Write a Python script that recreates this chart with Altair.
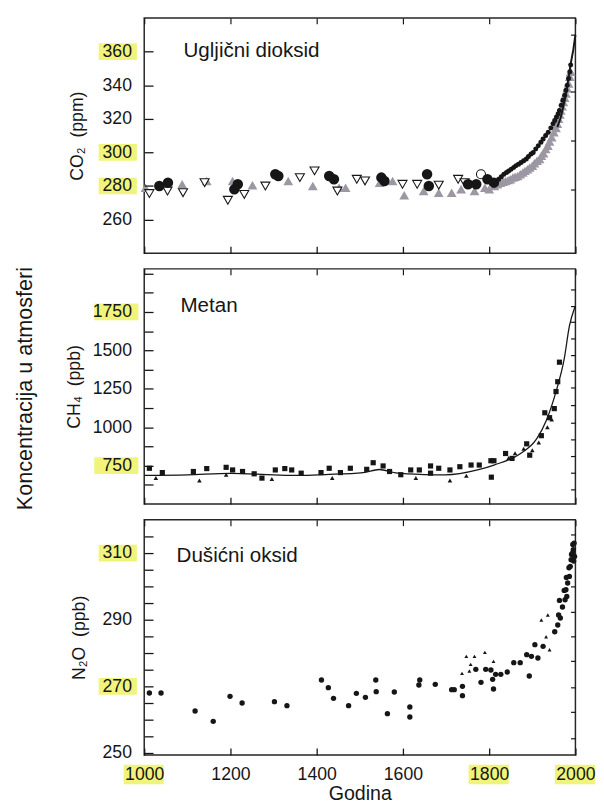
import altair as alt
import pandas as pd

FONT = "Liberation Sans"
INK = "#161616"
GRAY = "#9c97a3"
HILITE = "#f1f47a"

X_DOMAIN = [1000, 2000]
X_TICKS = [1000, 1200, 1400, 1600, 1800, 2000]
X_HILITE = [1000, 1800, 2000]

# ---------------- CO2 (ppm) ----------------
co2_circ_year = [1035, 1055, 1209, 1217, 1304, 1311, 1429, 1440, 1550, 1557, 1656, 1660, 1751, 1770, 1796, 1811]
co2_circ_val = [280, 282, 278, 281, 287, 286, 286, 284, 285, 283, 287, 280, 281, 281, 284, 282]
co2_open_year = [1012, 1054, 1090, 1140, 1194, 1232, 1281, 1361, 1395, 1448, 1493, 1512, 1599, 1633, 1683, 1728, 1743]
co2_open_val = [275.5, 277, 276, 282, 271.5, 275, 280, 285, 289, 277, 284, 283, 281, 281, 280.5, 284, 282]
co2_ring_year = [1781]
co2_ring_val = [287]
co2_gray_year = [1003, 1088, 1145, 1205, 1251, 1334, 1391, 1452, 1467, 1546, 1576, 1603, 1648, 1683, 1713,
                 1735, 1766, 1790, 1800, 1812, 1819, 1826, 1832, 1838, 1844, 1849, 1855, 1860, 1866, 1872,
                 1878, 1883, 1889, 1894, 1900, 1905, 1911, 1917, 1921, 1926, 1931, 1936, 1940, 1945, 1950,
                 1955, 1958, 1961, 1964, 1966, 1969, 1972, 1975, 1978, 1981, 1984, 1987, 1989]
co2_gray_val = [279, 281, 283, 283, 280.5, 283, 280, 279, 279, 282, 283, 274.5, 277, 276, 276,
                278, 277, 279, 278, 280, 281, 282, 282.5, 283, 283.5, 284, 285, 285.5, 286, 287,
                288, 289, 290, 291, 292, 293.5, 295, 296, 298, 299.5, 302, 304, 306.5, 309, 312,
                314.5, 317, 320, 322.5, 325, 327.5, 330, 332.5, 335, 338, 341, 345, 348]
co2_dot_year = [1822, 1828, 1834, 1840, 1845, 1851, 1857, 1862, 1868, 1874, 1880, 1886, 1891, 1897, 1902,
                1908, 1914, 1920, 1925, 1931, 1937, 1943, 1948, 1952, 1956, 1960, 1963, 1967, 1971, 1975,
                1978, 1981, 1984, 1987, 1989]
co2_dot_val = [284, 285.5, 287, 288, 289, 290, 291, 292, 293, 294, 295, 296, 297.5, 299, 300,
               302, 304, 306, 308, 310, 312, 314.5, 317, 319, 321, 323, 325, 328, 331, 334,
               337, 340, 344, 348, 352]
co2_line_year = [1958, 1965, 1970, 1975, 1980, 1985, 1990, 1995, 2000]
co2_line_val = [315, 320, 325, 331, 338, 346, 354, 361, 370]

# ---------------- CH4 (ppb) ----------------
ch4_sq_year = [1012, 1042, 1114, 1145, 1190, 1205, 1228, 1255, 1273, 1304, 1326, 1342, 1364, 1410, 1429,
               1455, 1478, 1516, 1531, 1554, 1569, 1595, 1618, 1638, 1664, 1664, 1683, 1709, 1732, 1758,
               1777, 1804, 1805, 1811, 1838, 1853, 1887, 1894, 1921, 1929, 1940, 1951, 1955, 1959, 1963]
ch4_sq_val = [733, 705, 712, 731, 739, 722, 712, 697, 669, 722, 731, 722, 701, 705, 733,
              705, 733, 726, 769, 748, 712, 691, 722, 722, 748, 701, 733, 722, 743, 754,
              754, 782, 675, 782, 829, 797, 892, 818, 945, 1094, 1062, 1121, 1232, 1296, 1423]
ch4_tri_year = [1027, 1128, 1190, 1296, 1436, 1630, 1709, 1747, 1845, 1860, 1880, 1900, 1915, 1935, 1945]
ch4_tri_val = [669, 654, 691, 663, 669, 669, 654, 684, 800, 830, 860, 850, 900, 1000, 1050]
ch4_line_year = [1000, 1100, 1200, 1300, 1357, 1420, 1508, 1545, 1583, 1650, 1698, 1773, 1811, 1872,
                 1910, 1932, 1955, 1974, 1986, 1999]
ch4_line_val = [686, 690, 700, 690, 686, 692, 705, 725, 703, 692, 690, 722, 754, 828,
                924, 1041, 1232, 1444, 1657, 1784]

# ---------------- N2O (ppb) ----------------
n2o_dot_year = [1012, 1039, 1118, 1160, 1199, 1227, 1302, 1331, 1411, 1427, 1439, 1474, 1492, 1513, 1537,
                1538, 1564, 1580, 1616, 1616, 1639, 1637, 1675, 1713, 1719, 1738, 1738, 1769, 1781, 1792,
                1804, 1808, 1810, 1815, 1827, 1842, 1857, 1872, 1887, 1893, 1898, 1906, 1913, 1925, 1952,
                1959, 1961, 1963, 1965, 1970, 1974, 1976, 1978, 1979, 1980, 1982, 1985, 1986, 1988, 1990,
                1991, 1993, 1994, 1995, 1996, 1997, 1998]
n2o_dot_val = [268.0, 268.0, 262.6, 259.5, 267.0, 265.0, 265.4, 264.2, 271.9, 269.6, 266.4, 264.2, 267.9, 266.7, 271.9,
               268.4, 261.8, 268.3, 263.8, 260.8, 271.9, 270.4, 270.6, 269.0, 269.0, 270.0, 267.2, 275.1, 271.2, 275.1,
               274.9, 272.1, 269.2, 273.6, 273.6, 274.3, 277.1, 277.1, 279.5, 273.1, 279.0, 282.5, 278.5, 282.0, 286.4,
               288.4, 291.4, 295.8, 290.5, 293.8, 298.8, 296.0, 299.0, 302.7, 297.0, 301.0, 305.6, 303.0, 306.0, 308.0,
               309.6, 310.0, 312.6, 311.0, 307.6, 313.0, 309.0]
n2o_tri_year = [1737, 1747, 1754, 1757, 1766, 1790, 1810, 1921, 1932, 1936, 1940]
n2o_tri_val = [273.9, 279.0, 274.6, 276.6, 279.0, 280.2, 277.5, 289.9, 284.9, 291.4, 281.0]

# ---------------- axes / labels ----------------
co2_left_ticks = [260, 280, 300, 320, 340, 360]
co2_labels = [260, 280, 300, 320, 340, 360]
co2_right_ticks = [278, 307, 336, 370]
co2_hilite = [360, 300, 280]

ch4_left_ticks = [625, 750, 875, 1000, 1125, 1250, 1375, 1500, 1625, 1750, 1875, 2000]
ch4_labels = [750, 1000, 1250, 1500, 1750]
ch4_right_ticks = [596, 705, 814, 923, 1032, 1141, 1256, 1365, 1468, 1577, 1686, 1788, 1897]
ch4_hilite = [1750, 750]

n2o_left_ticks = [250, 255, 260, 265, 270, 275, 280, 285, 290, 295, 300, 305, 310, 315]
n2o_labels = [250, 270, 290, 310]
n2o_right_ticks = [254.5, 262.2, 269.7, 277.5, 284.9, 292.4, 299.9, 307.6, 315.7]
n2o_hilite = [310, 270]

panel_names = ["Ugljični dioksid", "Metan", "Dušićni oksid"]
panel_name_year = [1091, 1084, 1075]
panel_name_val = [357, 1750, 307.3]
panel_titles = ["CO₂\u00a0 (ppm)", "CH₄\u00a0 (ppb)", "N₂O\u00a0 (ppb)"]

W, H = 440, 240


def df(years, vals):
    return pd.DataFrame({"year": years, "val": vals})


def panel(idx, y_domain, left_ticks, label_vals, right_ticks, hilite_vals, hl_path,
          series_layers, title_x, bottom=False):
    xs = alt.Scale(domain=X_DOMAIN, nice=False, zero=False)
    ys = alt.Scale(domain=y_domain, nice=False, zero=False)
    X = lambda: alt.X("year:Q", scale=xs, axis=None)
    Y = lambda: alt.Y("val:Q", scale=ys, axis=None)

    layers = []
    # yellow highlights behind selected y labels
    hl = alt.Chart(pd.DataFrame({"val": hilite_vals})).mark_point(
        shape=hl_path, filled=True, color=HILITE, size=400, opacity=1, strokeWidth=0
    ).encode(x=alt.value(-27), y=Y())
    layers.append(hl)
    if bottom:
        xhl = alt.Chart(pd.DataFrame({"year": X_HILITE})).mark_point(
            shape="M-2.1,-1H2V1H-2.1Z", filled=True, color=HILITE, size=400, opacity=1, strokeWidth=0
        ).encode(x=X(), y=alt.value(H + 20))
        layers.append(xhl)

    for data, mark in series_layers:
        if mark[0] == "line":
            layers.append(alt.Chart(data).mark_line(**mark[1]).encode(x=X(), y=Y()))
        else:
            layers.append(alt.Chart(data).mark_point(**mark[1]).encode(x=X(), y=Y()))

    ann = alt.Chart(pd.DataFrame({"year": [panel_name_year[idx]], "val": [panel_name_val[idx]],
                                  "label": [panel_names[idx]]})).mark_text(
        align="left", baseline="alphabetic", font=FONT, fontSize=21, color=INK
    ).encode(x=X(), y=Y(), text="label:N")
    layers.append(ann)

    label_expr = "indexof(" + str(label_vals) + ", datum.value) >= 0 ? datum.label : ''"
    left_axis = alt.Axis(
        orient="left", values=left_ticks, format="d", labelExpr=label_expr,
        offset=-9, tickSize=9, tickWidth=1.3, tickColor=INK, domain=False, grid=False,
        labelPadding=13, labelFont=FONT, labelFontSize=18, labelColor=INK,
        title=panel_titles[idx], titleFont=FONT, titleFontSize=18, titleFontWeight="normal",
        titleColor=INK, titleAngle=270, titleX=title_x, titleY=H / 2, titleAlign="center",
        titleBaseline="middle", zindex=1,
    )
    if bottom:
        bottom_axis = alt.Axis(
            orient="bottom", values=X_TICKS, format="d", offset=-7, tickSize=7, tickWidth=1.3,
            tickColor=INK, domain=False, grid=False, labelPadding=11, labelFont=FONT,
            labelFontSize=18, labelColor=INK, labelFlush=False, labelOverlap=False,
            title="Godina", titleFont=FONT, titleFontSize=20, titleFontWeight="normal",
            titleColor=INK, titlePadding=0, zindex=1,
        )
    else:
        bottom_axis = alt.Axis(
            orient="bottom", values=X_TICKS, offset=-7, tickSize=7, tickWidth=1.3,
            tickColor=INK, domain=False, grid=False, labels=False, title=None, zindex=1,
        )
    carrier = alt.Chart(pd.DataFrame({"year": [X_DOMAIN[0]], "val": [y_domain[0]]})).mark_point(
        opacity=0
    ).encode(x=alt.X("year:Q", scale=xs, axis=bottom_axis), y=alt.Y("val:Q", scale=ys, axis=left_axis))
    layers.append(carrier)

    top_axis = alt.Axis(orient="top", values=X_TICKS, offset=-6, tickSize=6, tickWidth=1.2,
                        tickColor=INK, domain=False, grid=False, labels=False, title=None, zindex=1)
    right_axis = alt.Axis(orient="right", values=right_ticks, offset=-5, tickSize=5, tickWidth=1.2,
                          tickColor=INK, domain=False, grid=False, labels=False, title=None, zindex=1)
    carrier2 = alt.Chart(pd.DataFrame({"year": [X_DOMAIN[0]], "val": [y_domain[0]]})).mark_point(
        opacity=0
    ).encode(x=alt.X("year:Q", scale=xs, axis=top_axis), y=alt.Y("val:Q", scale=ys, axis=right_axis))
    layers.append(carrier2)

    return alt.layer(*layers).properties(width=W, height=H)


pt = lambda **kw: ("point", dict(opacity=1, **kw))

co2 = panel(
    0, [240, 380], co2_left_ticks, co2_labels, co2_right_ticks, co2_hilite,
    "M-1.95,-0.85H1.95V0.85H-1.95Z",
    [
        (df(co2_gray_year, co2_gray_val), pt(shape="triangle-up", filled=True, color=GRAY, size=100)),
        (df(co2_open_year, co2_open_val), pt(shape="triangle-down", filled=True, fill="white",
                                             stroke=INK, strokeWidth=1.1, size=85)),
        (df(co2_ring_year, co2_ring_val), pt(shape="circle", filled=True, fill="white",
                                             stroke=INK, strokeWidth=1.1, size=85)),
        (df(co2_circ_year, co2_circ_val), pt(shape="circle", filled=True, color=INK, size=115)),
        (df(co2_dot_year, co2_dot_val), pt(shape="circle", filled=True, color=INK, size=26)),
        (df(co2_line_year, co2_line_val), ("line", dict(color=INK, strokeWidth=2))),
    ],
    title_x=-77,
)

ch4 = panel(
    1, [500, 2030], ch4_left_ticks, ch4_labels, ch4_right_ticks, ch4_hilite,
    "M-2.4,-0.85H2.1V0.85H-2.4Z",
    [
        (df(ch4_line_year, ch4_line_val), ("line", dict(color=INK, strokeWidth=1.3, interpolate="monotone"))),
        (df(ch4_tri_year, ch4_tri_val), pt(shape="triangle-up", filled=True, color=INK, size=22)),
        (df(ch4_sq_year, ch4_sq_val), pt(shape="square", filled=True, color=INK, size=28)),
    ],
    title_x=-80,
)

n2o = panel(
    2, [249.4, 320], n2o_left_ticks, n2o_labels, n2o_right_ticks, n2o_hilite,
    "M-1.95,-0.85H1.95V0.85H-1.95Z",
    [
        (df(n2o_tri_year, n2o_tri_val), pt(shape="triangle-up", filled=True, color=INK, size=16)),
        (df(n2o_dot_year, n2o_dot_val), pt(shape="circle", filled=True, color=INK, size=30)),
    ],
    title_x=-75,
    bottom=True,
)

chart = alt.vconcat(co2, ch4, n2o, spacing=10).properties(
    title=alt.TitleParams("Koncentracija u atmosferi", orient="left", anchor="middle",
                          font=FONT, fontSize=22, fontWeight="normal", color=INK, offset=29, dx=22),
    padding={"left": 6, "top": 0, "right": 0, "bottom": 0},
).configure_view(stroke="#262626", strokeWidth=1.5)

chart.save("out.html", embed_options={"renderer": "svg", "actions": False})
